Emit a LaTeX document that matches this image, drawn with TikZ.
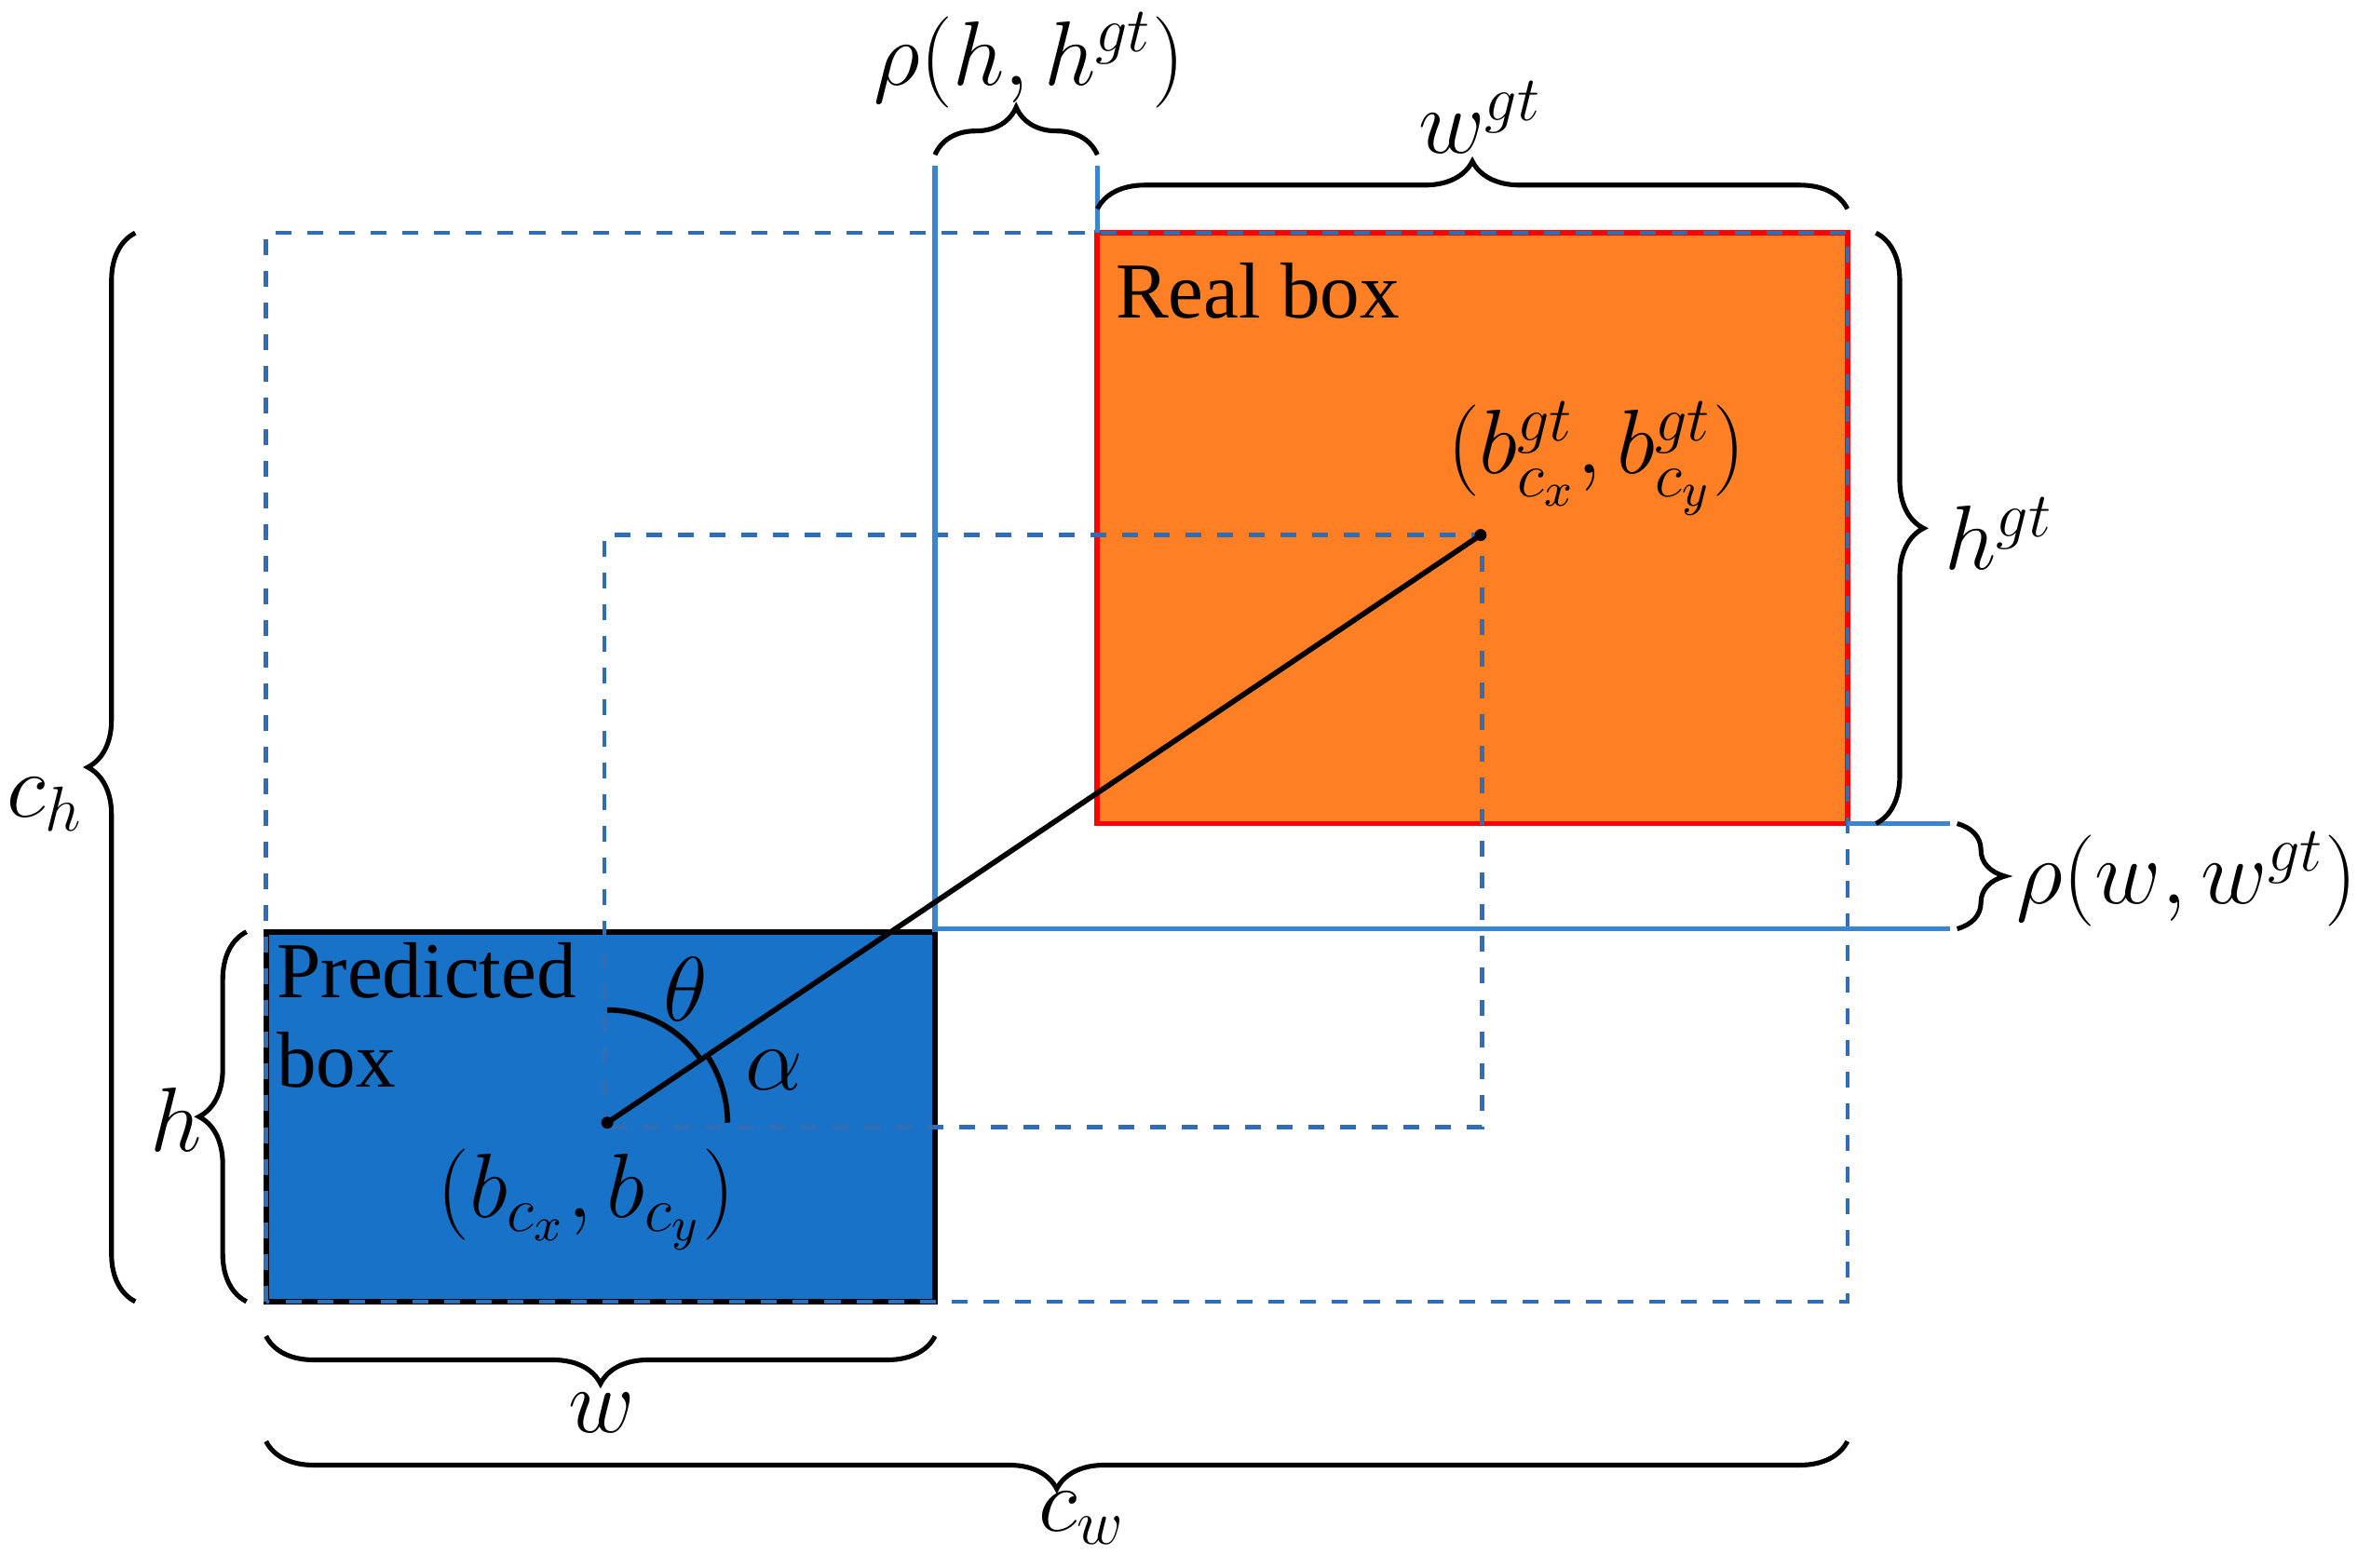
\documentclass[tikz,border=0pt]{standalone}
\usepackage{fontspec}
\setmainfont{Liberation Serif}
\usetikzlibrary{decorations.pathreplacing}
\definecolor{predblue}{HTML}{1872C8}
\definecolor{realorange}{HTML}{FF8024}
\definecolor{lineblue}{HTML}{3A84D0}
\definecolor{dashblue}{HTML}{2F6DB5}
\tikzset{
  br/.style={draw=black,line width=0.9pt,decorate,decoration={brace,amplitude=9pt}},
  dsh/.style={draw=dashblue,dashed,line width=0.8pt},
  guide/.style={draw=lineblue,line width=0.9pt},
  mlab/.style={font=\fontsize{18}{21}\selectfont,inner sep=1pt},
  tlab/.style={font=\fontsize{15}{17}\selectfont,inner sep=1pt}
}
\begin{document}
\begin{tikzpicture}[x=0.01cm,y=0.01cm]
\useasboundingbox (0,0) rectangle (1568,1043);
% boxes
\fill[predblue] (177,177) rectangle (622,423);
\draw[black,line width=1pt] (177,177) rectangle (622,423);
\fill[realorange] (730,495) rectangle (1229,888);
\draw[red,line width=1pt] (730,495) rectangle (1229,888);
% dashed rectangles
\draw[dsh] (177,177) rectangle (1229,888);
\draw[dsh] (402,293) rectangle (986,687);
% guide lines
\draw[guide] (622,423) -- (622,933);
\draw[guide] (730,888) -- (730,933);
\draw[guide] (1229,495) -- (1297,495);
\draw[guide] (622,425) -- (1297,425);
% centers and connecting line
\coordinate (pc) at (404,296);
\coordinate (rc) at (985,687);
\draw[black,line width=1pt] (pc) -- (rc);
\fill (pc) circle (4);
\fill (rc) circle (4);
% angles
\draw[black,line width=1pt] (404,371) arc[start angle=90,end angle=33.9,radius=0.75cm];
\draw[black,line width=1pt] (484,296) arc[start angle=0,end angle=33.9,radius=0.8cm];
\node[mlab] (theta) at (456,385) {$\theta$};
\node[mlab] (alpha) at (515,331) {$\alpha$};
% texts
\node[tlab,anchor=north west] (real) at (738,872) {Real box};
\node[tlab,anchor=north west,align=left] (pred) at (180,420) {Predicted\\box};
\node[mlab] (pcl) at (390,245) {$(b_{c_x},b_{c_y})$};
\node[mlab] (rcl) at (1062,738) {$(b^{gt}_{c_x},b^{gt}_{c_y})$};
% braces
\draw[br] (622,940) -- (730,940);
\node[mlab] (rh) at (685,1003) {$\rho(h,h^{gt})$};
\draw[br] (730,904) -- (1229,904);
\node[mlab] (wgt) at (985,965) {$w^{gt}$};
\draw[br] (1248,888) -- (1248,495);
\node[mlab] (hgt) at (1330,688) {$h^{gt}$};
\draw[br] (1302,495) -- (1302,425);
\node[mlab] (rw) at (1455,458) {$\rho(w,w^{gt})$};
\draw[br] (90,177) -- (90,888);
\node[mlab] (ch) at (30,508) {$c_h$};
\draw[br] (164,177) -- (164,423);
\node[mlab] (h) at (117,298) {$h$};
\draw[br] (622,154) -- (177,154);
\node[mlab] (w) at (400,103) {$w$};
\draw[br] (1229,84) -- (177,84);
\node[mlab] (cw) at (720,33) {$c_w$};
\end{tikzpicture}
\end{document}
